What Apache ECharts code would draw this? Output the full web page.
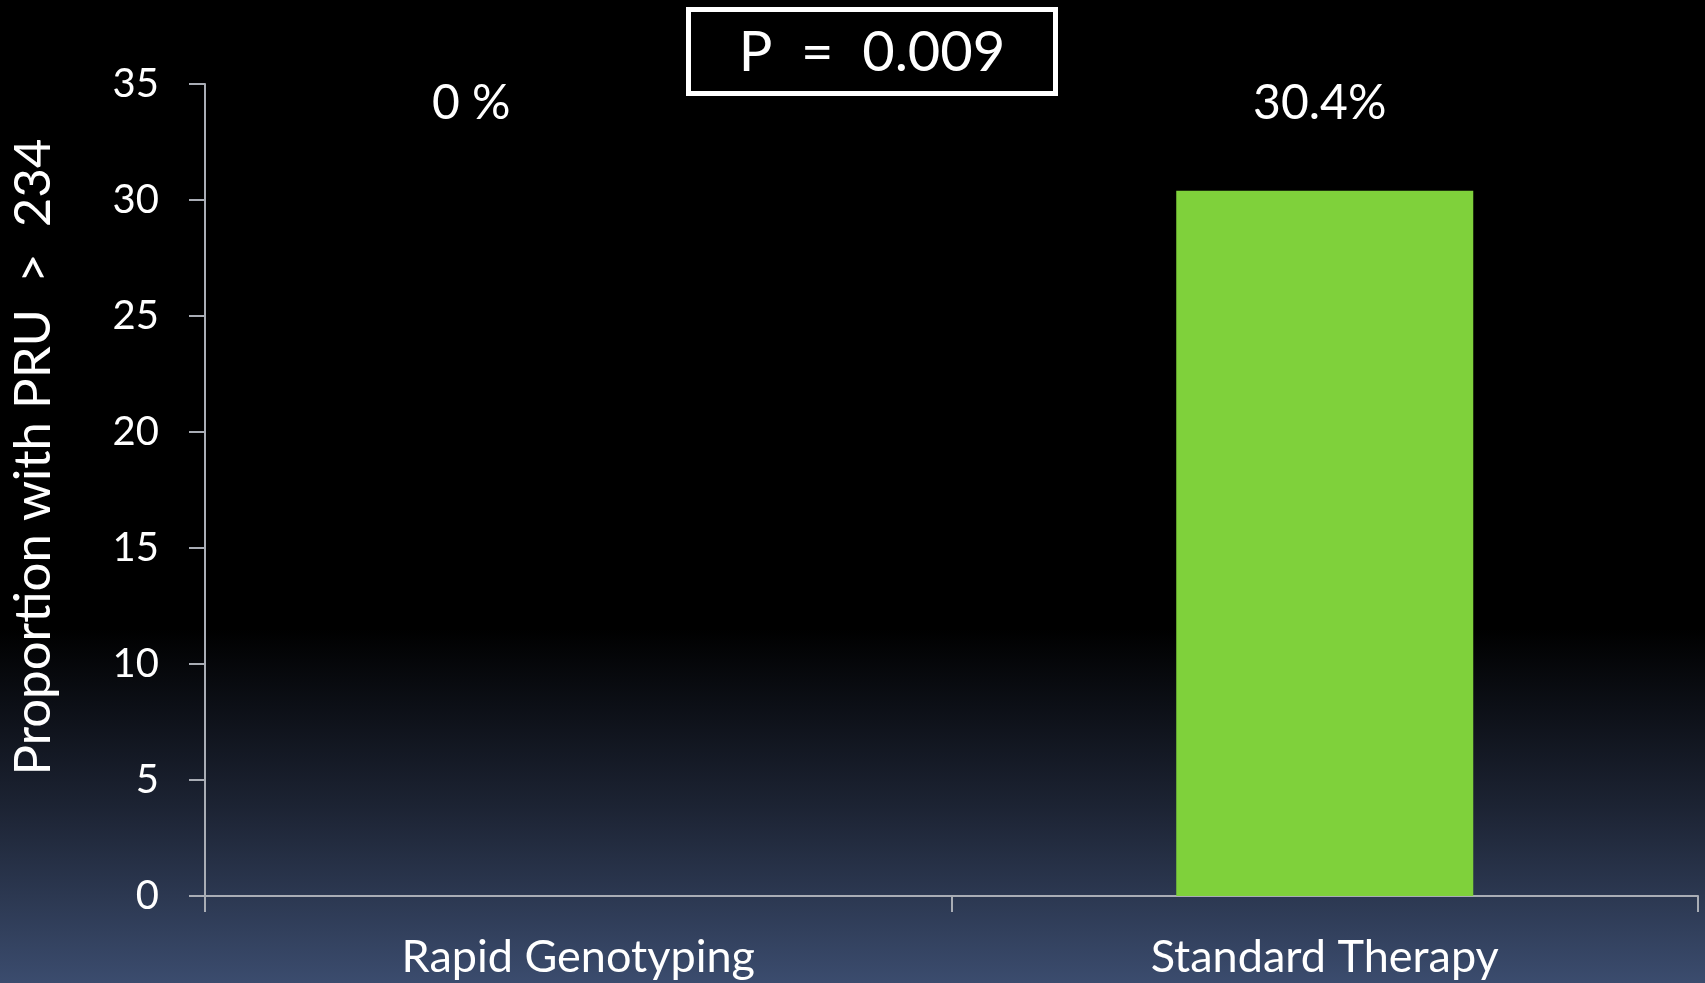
<!DOCTYPE html>
<html>
<head>
<meta charset="utf-8">
<script src="https://cdn.jsdelivr.net/npm/echarts@6/dist/echarts.min.js"></script>
<style>
html,body{margin:0;padding:0;background:#000;}
#chart{width:1705px;height:983px;}
</style>
</head>
<body>
<div id="chart"></div>
<script>
const categories = ['Rapid Genotyping', 'Standard Therapy'];
const values = [0, 30.4];
const valueLabels = ['0 %', '30.4%'];
const yAxisTitle = 'Proportion with PRU  >  234';
const pValueText = 'P  =  0.009';
const yMin = 0, yMax = 35, yInterval = 5;

const FONT = 'Lato';
const chart = echarts.init(document.getElementById('chart'), null, {renderer: 'canvas'});

const option = {
  backgroundColor: {
    type: 'linear', x: 0, y: 0, x2: 0, y2: 1,
    colorStops: [
      {offset: 0, color: '#000000'},
      {offset: 0.64, color: '#000000'},
      {offset: 0.82, color: '#1c2333'},
      {offset: 1, color: '#3b4c6e'}
    ]
  },
  animation: false,
  grid: {left: 205, right: 7, top: 84, bottom: 87, containLabel: false, outerBoundsMode: 'none'},
  xAxis: [
    {
      type: 'category',
      data: categories,
      position: 'bottom',
      axisLine: {show: true, lineStyle: {color: '#a9adb5', width: 2}},
      axisTick: {show: true, length: 16, lineStyle: {color: '#a9adb5', width: 2}},
      axisLabel: {color: '#ffffff', fontFamily: FONT, fontSize: 45, margin: 39},
      splitLine: {show: false}
    },
    {
      type: 'category',
      data: valueLabels,
      position: 'top',
      axisLine: {show: false},
      axisTick: {show: false},
      axisLabel: {
        color: '#ffffff', fontFamily: FONT, fontSize: 48,
        verticalAlign: 'middle', margin: -20,
        formatter: function (v, i) { return '{r' + i + '|' + v + '}'; },
        rich: {
          r0: {color: '#ffffff', fontFamily: FONT, fontSize: 48, padding: [0, 214, 0, 0]},
          r1: {color: '#ffffff', fontFamily: FONT, fontSize: 48, padding: [0, 10, 0, 0]}
        }
      }
    }
  ],
  yAxis: {
    type: 'value',
    min: yMin, max: yMax, interval: yInterval,
    name: yAxisTitle,
    nameLocation: 'middle',
    nameRotate: 90,
    nameGap: 146,
    nameTextStyle: {color: '#ffffff', fontFamily: FONT, fontSize: 51, padding: [0, 0, 0, 66]},
    axisLine: {show: true, lineStyle: {color: '#a9adb5', width: 2}},
    axisTick: {show: true, length: 16, lineStyle: {color: '#a9adb5', width: 2}},
    axisLabel: {color: '#ffffff', fontFamily: FONT, fontSize: 40, margin: 46, padding: [12, 0, 0, 0]},
    splitLine: {show: false}
  },
  series: [{
    type: 'bar',
    xAxisIndex: 0,
    data: values,
    barWidth: 297,
    itemStyle: {color: '#7fd13b'},
    label: {show: false}
  }],
  graphic: [{
    type: 'group',
    left: 686, top: 7,
    children: [
      {type: 'rect', shape: {x: 2.5, y: 2.5, width: 367, height: 84},
       style: {fill: '#000000', stroke: '#ffffff', lineWidth: 5}},
      {type: 'text', x: 186, y: 46,
       style: {text: pValueText, fill: '#ffffff', font: '56px ' + FONT, textAlign: 'center', textVerticalAlign: 'middle'}}
    ]
  }]
};
chart.setOption(option);
</script>
</body>
</html>
